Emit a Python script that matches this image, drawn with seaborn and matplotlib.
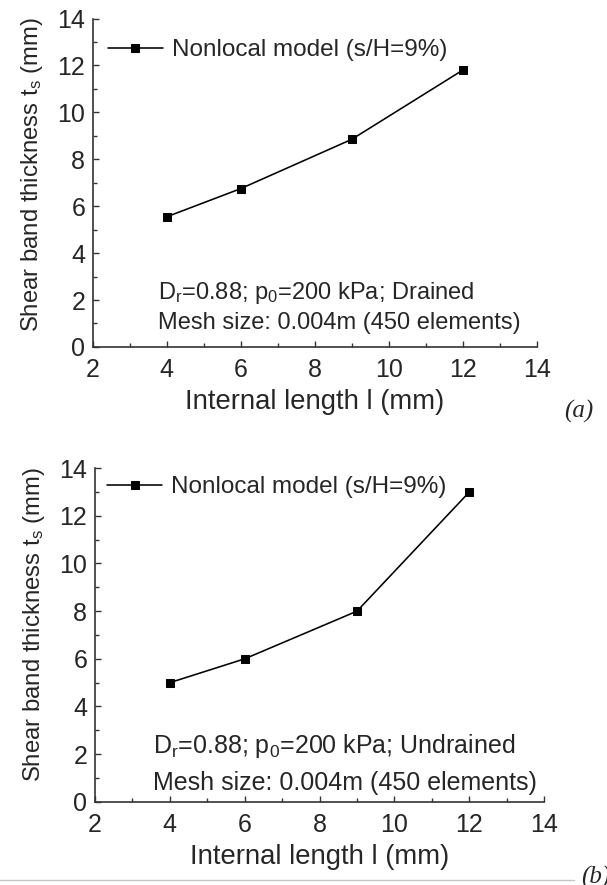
import matplotlib
matplotlib.use("Agg")
import matplotlib.pyplot as plt
import seaborn as sns
import pandas as pd
from matplotlib.ticker import MultipleLocator

# Data
internal_length = [4, 6, 9, 12]
thickness_drained = [5.55, 6.75, 8.85, 11.8]
thickness_undrained = [5.0, 6.0, 8.0, 13.0]
series_label = "Nonlocal model (s/H=9%)"
cond_a = "D$_\\mathregular{r}$=0.88; p$_\\mathregular{0}$=200 kPa; Drained"
cond_b = "D$_\\mathregular{r}$=0.88; p$_\\mathregular{0}$=200 kPa; Undrained"
mesh_text = "Mesh size: 0.004m (450 elements)"
xlabel = "Internal length l (mm)"
ylabel = "Shear band thickness t$_\\mathregular{s}$ (mm)"
panel_labels = ["(a)", "(b)"]

sns.set_theme(style="ticks")
plt.rcParams['font.family'] = ['Liberation Sans', 'DejaVu Sans']
plt.rcParams['mathtext.fontset'] = 'custom'
plt.rcParams['mathtext.rm'] = 'Liberation Sans'
plt.rcParams['mathtext.it'] = 'Liberation Sans'

fig = plt.figure(figsize=(6.07, 8.85), dpi=100)
ax1 = fig.add_axes([0.153, 0.608, 0.731, 0.371])
ax2 = fig.add_axes([0.1565, 0.094, 0.740, 0.377])

# (axis, values, condition text, text x, cond y, mesh y, text size,
#  legend anchor, ylabel coords)
panels = [
    (ax1, thickness_drained, cond_a, 3.76, 2.05, 0.77, 17, (0.034, 0.903),
     (-0.108, 0.524)),
    (ax2, thickness_undrained, cond_b, 3.55, 2.05, 0.49, 18, (0.027, 0.943),
     (-0.106, 0.53)),
]

for ax, vals, cond, tx, yc, ym, tsize, lanchor, ylc in panels:
    df = pd.DataFrame({"l": internal_length, "t": vals})
    sns.lineplot(data=df, x="l", y="t", ax=ax, color="black", marker="s",
                 markersize=5.5, markeredgecolor="black", linewidth=1.15,
                 label=series_label)
    ax.set_xlim(2, 14)
    ax.set_ylim(0, 14)
    ax.xaxis.set_major_locator(MultipleLocator(2))
    ax.xaxis.set_minor_locator(MultipleLocator(1))
    ax.yaxis.set_major_locator(MultipleLocator(2))
    ax.yaxis.set_minor_locator(MultipleLocator(1))
    ax.tick_params(which="major", direction="in", length=4.5, width=1.0,
                   labelsize=18, color="#333333")
    ax.tick_params(which="minor", direction="in", length=3, width=1.0,
                   color="#333333")
    ax.tick_params(axis="x", which="major", pad=8.3)
    ax.tick_params(axis="y", which="major", pad=5.5)
    for s in ["top", "right"]:
        ax.spines[s].set_visible(False)
    for s in ["left", "bottom"]:
        ax.spines[s].set_linewidth(1.2)
        ax.spines[s].set_color("#333333")
    ax.set_xlabel(xlabel, fontsize=19.8, labelpad=5)
    ax.set_ylabel(ylabel, fontsize=17.2)
    ax.yaxis.set_label_coords(*ylc)
    ax.text(tx, yc, cond, fontsize=tsize, va="baseline", ha="left")
    ax.text(tx, ym, mesh_text, fontsize=tsize, va="baseline", ha="left")
    ax.legend(loc="center left", bbox_to_anchor=lanchor, frameon=False,
              fontsize=17.5, handlelength=2.26, handletextpad=0.37,
              borderaxespad=0.0, borderpad=0.0)

fig.text(0.954, 1 - 411 / 885, panel_labels[0], fontsize=18, style="italic",
         family="Liberation Serif", ha="center", va="center")
fig.text(0.982, 1 - 877 / 885, panel_labels[1], fontsize=18, style="italic",
         family="Liberation Serif", ha="center", va="center")
fig.add_artist(plt.Line2D([0.0, 0.945], [1 - 880 / 885, 1 - 880 / 885],
                          color="#c4c4c4", linewidth=1.0,
                          transform=fig.transFigure))

fig.savefig("out.png", dpi=100)
